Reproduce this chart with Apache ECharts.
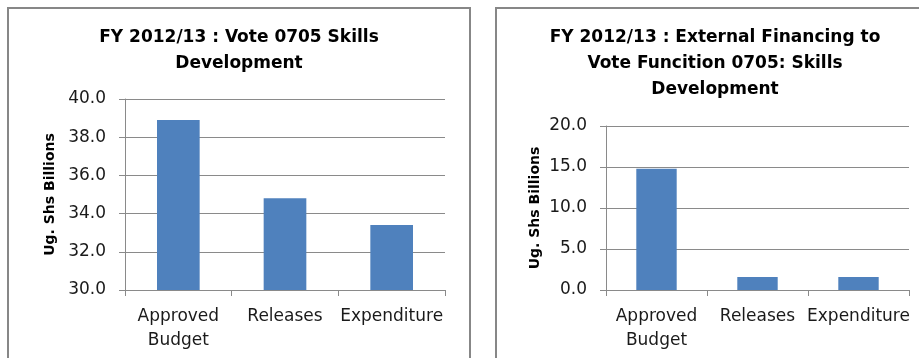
<!DOCTYPE html>
<html>
<head>
<meta charset="utf-8">
<script src="https://cdn.jsdelivr.net/npm/echarts@6/dist/echarts.min.js"></script>
<style>
  html, body { margin: 0; padding: 0; background: #fff; }
  #chart { width: 919px; height: 358px; }
</style>
</head>
<body>
<div id="chart"></div>
<script>
// Skills development budget performance, FY 2012/13 (Ug. Shs billions)
const categories = ['Approved Budget', 'Releases', 'Expenditure'];
const voteValues = [38.9, 34.8, 33.4];
const externalValues = [14.8, 1.6, 1.6];

const voteTitle = 'FY 2012/13 : Vote 0705 Skills\nDevelopment';
const externalTitle = 'FY 2012/13 : External Financing to\nVote Funcition 0705: Skills\nDevelopment';
const yName = 'Ug. Shs Billions';

const FONT = '"DejaVu Sans", sans-serif';
const GRID_GREY = '#8a8a8a';
const BAR_BLUE = '#4f81bd';

function xAxisFor(gridIndex) {
  return {
    type: 'category',
    gridIndex: gridIndex,
    data: categories,
    axisLine: { lineStyle: { color: GRID_GREY, width: 1 } },
    axisTick: { show: true, length: 6, lineStyle: { color: GRID_GREY } },
    axisLabel: {
      interval: 0,
      fontFamily: FONT, fontSize: 17, color: '#1a1a1a', lineHeight: 24, margin: 15,
      formatter: function (v) { return v.replace(' ', '\n'); }
    }
  };
}

function yAxisFor(gridIndex, min, max, interval, nameGap) {
  return {
    type: 'value',
    gridIndex: gridIndex,
    min: min, max: max, interval: interval,
    name: yName,
    nameLocation: 'middle',
    nameGap: nameGap,
    nameTextStyle: { fontFamily: FONT, fontWeight: 'bold', fontSize: 14, color: '#000' },
    axisLine: { show: true, lineStyle: { color: GRID_GREY, width: 1 } },
    axisTick: { show: true, length: 6, lineStyle: { color: GRID_GREY } },
    axisLabel: {
      fontFamily: FONT, fontSize: 17, color: '#1a1a1a', margin: 19,
      formatter: function (v) { return v.toFixed(1); }
    },
    splitLine: { show: true, lineStyle: { color: GRID_GREY, width: 1 } }
  };
}

function titleText(x, text) {
  return {
    type: 'text', x: x, y: 25,
    style: {
      text: text, fontFamily: FONT, fontWeight: 'bold', fontSize: 17, lineHeight: 26,
      fill: '#000', textAlign: 'center', textVerticalAlign: 'top'
    }
  };
}

const chart = echarts.init(document.getElementById('chart'), null, { renderer: 'canvas' });
chart.setOption({
  animation: false,
  backgroundColor: '#fff',
  graphic: [
    // panel frames
    { type: 'rect', shape: { x: 8, y: 8, width: 462, height: 400 },
      style: { fill: 'none', stroke: '#878787', lineWidth: 2 } },
    { type: 'rect', shape: { x: 496, y: 8, width: 440, height: 400 },
      style: { fill: 'none', stroke: '#878787', lineWidth: 2 } },
    titleText(239, voteTitle),
    titleText(715, externalTitle)
  ],
  grid: [
    { left: 125, top: 99, width: 320, height: 191 },
    { left: 606, top: 126, width: 303, height: 164 }
  ],
  xAxis: [xAxisFor(0), xAxisFor(1)],
  yAxis: [
    yAxisFor(0, 30, 40, 2, 68),
    yAxisFor(1, 0, 20, 5, 64)
  ],
  series: [
    { type: 'bar', xAxisIndex: 0, yAxisIndex: 0, data: voteValues,
      barWidth: '40%', itemStyle: { color: BAR_BLUE } },
    { type: 'bar', xAxisIndex: 1, yAxisIndex: 1, data: externalValues,
      barWidth: '40%', itemStyle: { color: BAR_BLUE } }
  ]
});
</script>
</body>
</html>
